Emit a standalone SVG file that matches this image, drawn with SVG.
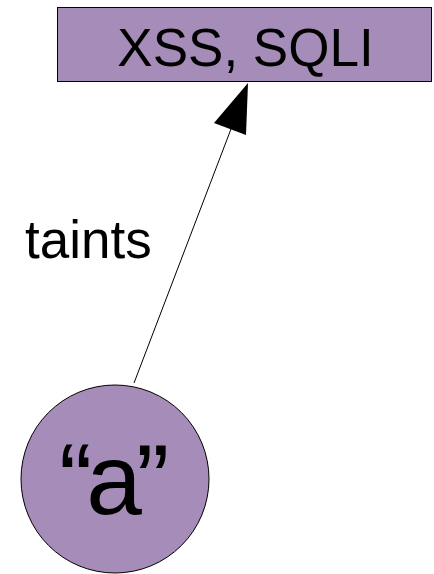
<svg xmlns="http://www.w3.org/2000/svg" width="434" height="574" viewBox="0 0 434 574">
<style>
.node{fill:#a68cb8;stroke:#000;stroke-width:1}
.t{font-family:"Liberation Sans",Arial,sans-serif;fill:#000}
</style>
<rect width="434" height="574" fill="#fff"/>
<g id="connectors">
<line x1="134" y1="383" x2="231" y2="129" stroke="#000" stroke-width="1"/>
<polygon points="248,83 214,123 246,135" fill="#000"/>
<text class="t" x="25" y="258" font-size="53">taints</text>
</g>
<g id="vuln">
<rect class="node" x="57.5" y="7.5" width="374" height="74"/>
<text class="t" x="245.5" y="66" font-size="53" text-anchor="middle">XSS, SQLI</text>
</g>
<g id="a">
<circle class="node" cx="115" cy="479" r="94"/>
<text class="t" x="59" y="514" font-size="100" letter-spacing="-6">“a”</text>
</g>
</svg>
